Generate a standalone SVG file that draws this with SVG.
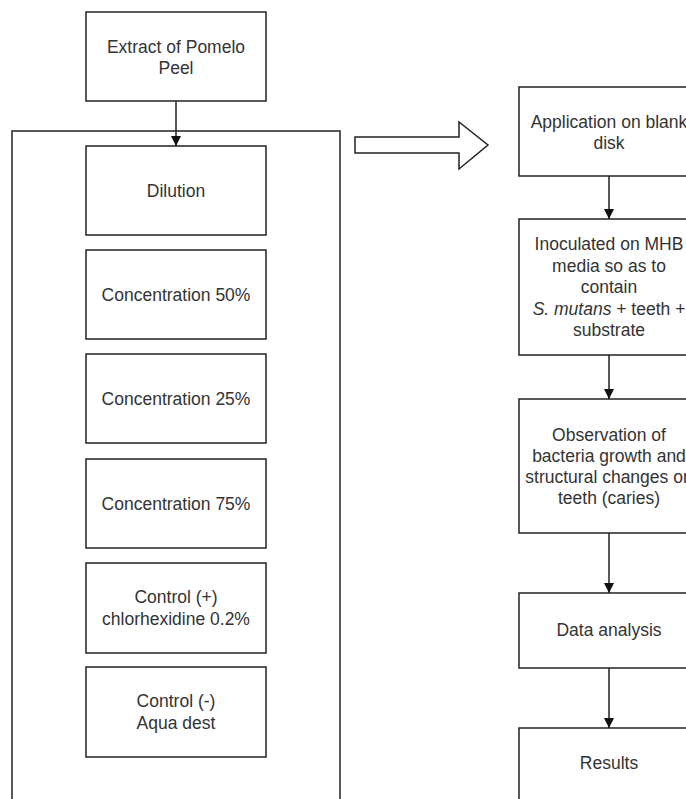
<svg xmlns="http://www.w3.org/2000/svg" width="686" height="799" viewBox="0 0 686 799">
<style>
.box{fill:#fff;stroke:#222;stroke-width:1.5}
.t{font-family:"Liberation Sans",Arial,Helvetica,sans-serif;font-size:17.5px;fill:#333;text-anchor:middle;dominant-baseline:central}
.c{fill:none;stroke:#222;stroke-width:1.5}
</style>
<defs>
<marker id="ah" viewBox="0 0 10 10" refX="10" refY="5" markerWidth="10" markerHeight="10" markerUnits="userSpaceOnUse" orient="auto">
<path d="M0,0 L10,5 L0,10 Z" fill="#111"/>
</marker>
</defs>
<rect width="686" height="799" fill="#fff"/>
<g id="container"><rect class="box" x="12" y="131" width="328" height="700"/></g>
<g id="extract"><rect class="box" x="86" y="12" width="180" height="89"/><text class="t" x="176" y="47">Extract of Pomelo</text><text class="t" x="176" y="68">Peel</text></g>
<g id="dilution"><rect class="box" x="86" y="146" width="180" height="89"/><text class="t" x="176" y="190.5">Dilution</text></g>
<g id="c50"><rect class="box" x="86" y="250" width="180" height="89"/><text class="t" x="176" y="294.5">Concentration 50%</text></g>
<g id="c25"><rect class="box" x="86" y="354" width="180" height="89"/><text class="t" x="176" y="398.5">Concentration 25%</text></g>
<g id="c75"><rect class="box" x="86" y="459" width="180" height="89"/><text class="t" x="176" y="503.5">Concentration 75%</text></g>
<g id="ctrlpos"><rect class="box" x="86" y="563" width="180" height="90"/><text class="t" x="176" y="597">Control (+)</text><text class="t" x="176" y="619">chlorhexidine 0.2%</text></g>
<g id="ctrlneg"><rect class="box" x="86" y="667" width="180" height="90"/><text class="t" x="176" y="701">Control (-)</text><text class="t" x="176" y="723">Aqua dest</text></g>
<g id="blockarrow"><path class="box" d="M355,137 L459,137 L459,122 L488,145 L459,169 L459,153 L355,153 Z"/></g>
<g id="application"><rect class="box" x="519" y="87" width="180" height="89"/><text class="t" x="609" y="122">Application on blank</text><text class="t" x="609" y="143">disk</text></g>
<g id="inoculated"><rect class="box" x="519" y="219" width="180" height="136"/><text class="t" x="609" y="244">Inoculated on MHB</text><text class="t" x="609" y="266">media so as to</text><text class="t" x="609" y="287">contain</text><text class="t" x="609" y="309"><tspan font-style="italic">S. mutans</tspan> + teeth +</text><text class="t" x="609" y="330">substrate</text></g>
<g id="observation"><rect class="box" x="519" y="399" width="180" height="134"/><text class="t" x="609" y="435">Observation of</text><text class="t" x="609" y="456">bacteria growth and</text><text class="t" x="609" y="477">structural changes on</text><text class="t" x="609" y="498">teeth (caries)</text></g>
<g id="data"><rect class="box" x="519" y="593" width="180" height="75"/><text class="t" x="609" y="630">Data analysis</text></g>
<g id="results"><rect class="box" x="519" y="728" width="180" height="75"/><text class="t" x="609" y="763">Results</text></g>
<g id="connectors">
<line class="c" x1="176" y1="101" x2="176" y2="146" marker-end="url(#ah)"/>
<line class="c" x1="609" y1="176" x2="609" y2="219" marker-end="url(#ah)"/>
<line class="c" x1="609" y1="355" x2="609" y2="399" marker-end="url(#ah)"/>
<line class="c" x1="609" y1="533" x2="609" y2="593" marker-end="url(#ah)"/>
<line class="c" x1="609" y1="668" x2="609" y2="728" marker-end="url(#ah)"/>
</g>
</svg>
